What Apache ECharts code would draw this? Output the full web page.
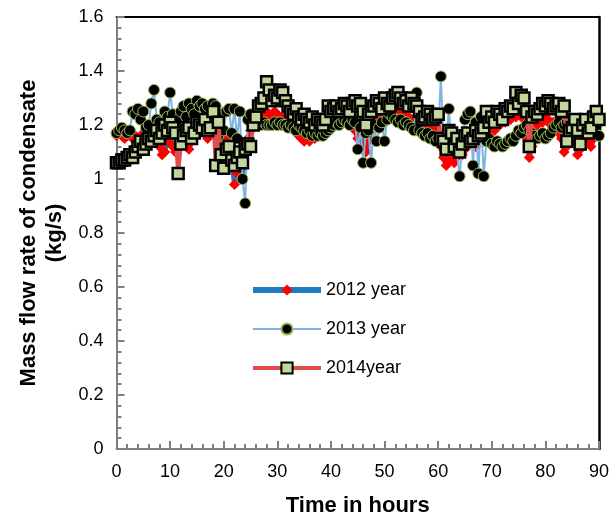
<!DOCTYPE html>
<html>
<head>
<meta charset="utf-8">
<script src="https://cdn.jsdelivr.net/npm/echarts@6/dist/echarts.min.js"></script>
<style>
html,body{margin:0;padding:0;background:#fff;}
#c{width:612px;height:522px;}
</style>
</head>
<body>
<div id="c"></div>
<script>
// time step between readings (hours)
const timeStep = 0.5;
const xTicks = [0,10,20,30,40,50,60,70,80,90];
const yTicks = [0,0.2,0.4,0.6,0.8,1,1.2,1.4,1.6];
const seriesNames = ['2012 year','2013 year','2014year'];

const y2012 = [
1.16,1.17,1.16,1.15,1.16,1.17,1.15,1.16,1.14,1.15,
1.17,1.16,1.18,1.19,1.17,1.15,1.12,1.09,1.10,1.14,
1.16,1.12,1.10,1.13,1.15,1.17,1.12,1.11,1.14,1.16,
1.18,1.20,1.19,1.17,1.15,1.18,1.20,1.16,1.13,1.11,
1.12,1.15,1.10,1.08,0.98,1.02,1.05,1.00,1.10,1.15,
1.18,1.20,1.22,1.21,1.24,1.23,1.25,1.24,1.22,1.25,
1.24,1.22,1.23,1.21,1.20,1.19,1.18,1.17,1.16,1.15,
1.14,1.15,1.14,1.16,1.15,1.17,1.16,1.18,1.19,1.20,
1.21,1.20,1.22,1.21,1.23,1.22,1.24,1.23,1.20,1.18,
1.15,1.17,1.12,1.10,1.14,1.18,1.20,1.22,1.21,1.23,
1.24,1.22,1.25,1.23,1.24,1.26,1.25,1.24,1.22,1.23,
1.22,1.21,1.20,1.22,1.20,1.19,1.18,1.20,1.16,1.18,
1.15,1.12,1.08,1.05,1.07,1.10,1.06,1.08,1.12,1.09,
1.11,1.15,1.13,1.16,1.12,1.15,1.18,1.14,1.17,1.20,
1.19,1.18,1.21,1.20,1.22,1.21,1.23,1.22,1.24,1.23,
1.25,1.24,1.22,1.15,1.08,1.12,1.18,1.20,1.22,1.21,
1.23,1.22,1.20,1.21,1.19,1.17,1.15,1.10,1.12,1.16,
1.18,1.13,1.09,1.11,1.15,1.17,1.14,1.12,1.15,1.17,
1.16];

const y2013 = [
1.17,1.18,1.19,1.18,1.17,1.18,1.25,1.24,1.26,1.22,
1.25,1.19,1.20,1.28,1.33,1.22,1.21,1.19,1.25,1.23,
1.32,1.24,1.20,1.22,1.25,1.27,1.23,1.28,1.26,1.24,
1.29,1.27,1.28,1.26,1.27,1.23,1.28,1.27,1.16,1.24,
1.18,1.25,1.26,1.17,1.26,1.15,1.25,1.00,0.91,1.22,
1.24,1.21,1.20,1.21,1.20,1.21,1.20,1.20,1.20,1.21,
1.20,1.21,1.20,1.20,1.19,1.20,1.19,1.18,1.20,1.19,
1.18,1.17,1.18,1.16,1.17,1.16,1.17,1.16,1.17,1.18,
1.19,1.20,1.21,1.20,1.21,1.22,1.21,1.20,1.22,1.21,
1.11,1.19,1.06,1.17,1.18,1.06,1.20,1.14,1.19,1.21,
1.14,1.22,1.24,1.23,1.22,1.21,1.22,1.20,1.21,1.20,
1.19,1.18,1.32,1.18,1.17,1.16,1.17,1.15,1.16,1.14,
1.15,1.38,1.13,1.14,1.26,1.12,1.14,1.10,1.01,1.12,
1.22,1.24,1.25,1.05,1.21,1.02,1.23,1.01,1.14,1.15,
1.13,1.12,1.14,1.13,1.12,1.13,1.14,1.15,1.14,1.16,
1.18,1.17,1.19,1.20,1.18,1.17,1.16,1.15,1.16,1.17,
1.15,1.16,1.17,1.19,1.20,1.21,1.19,1.20,1.21,1.22,
1.21,1.20,1.22,1.21,1.20,1.22,1.21,1.20,1.21,1.19,
1.16];

const y2014 = [
1.06,1.06,1.07,1.07,1.08,1.09,1.08,1.10,1.12,1.14,
1.11,1.13,1.15,1.14,1.16,1.18,1.15,1.17,1.20,1.18,
1.21,1.19,1.17,1.02,1.13,1.16,1.18,1.19,1.15,1.17,
1.21,1.20,1.19,1.22,1.18,1.19,1.25,1.05,1.21,1.09,
1.04,1.11,1.12,1.07,1.05,1.08,1.10,1.06,1.11,1.13,
1.12,1.20,1.23,1.27,1.28,1.30,1.36,1.33,1.29,1.31,
1.30,1.33,1.32,1.29,1.27,1.25,1.24,1.26,1.23,1.22,
1.24,1.22,1.21,1.23,1.20,1.22,1.21,1.20,1.22,1.27,
1.25,1.26,1.27,1.25,1.26,1.28,1.27,1.25,1.28,1.29,
1.27,1.28,1.25,1.20,1.24,1.25,1.27,1.29,1.28,1.26,
1.30,1.28,1.27,1.30,1.31,1.32,1.30,1.28,1.29,1.27,
1.30,1.28,1.27,1.25,1.22,1.23,1.25,1.24,1.22,1.23,
1.24,1.15,1.14,1.11,1.18,1.17,1.12,1.15,1.10,1.13,
1.16,1.17,1.14,1.15,1.18,1.16,1.17,1.19,1.25,1.21,
1.23,1.21,1.25,1.24,1.22,1.26,1.25,1.27,1.26,1.32,
1.28,1.31,1.30,1.25,1.12,1.23,1.25,1.24,1.26,1.28,
1.27,1.29,1.28,1.26,1.27,1.28,1.25,1.27,1.14,1.18,
1.19,1.22,1.18,1.13,1.20,1.22,1.17,1.19,1.23,1.25,
1.22];

function pairs(arr){ return arr.map((v,i)=>[i*timeStep, v]); }

const FONT = '"Liberation Sans", Arial, sans-serif';
const chart = echarts.init(document.getElementById('c'), null, {renderer:'canvas'});

chart.setOption({
  animation:false,
  backgroundColor:'#fff',
  grid:{left:116.5, right:6, top:17, bottom:66, show:false},
  legend:{
    orient:'vertical', left:245, top:276,
    itemWidth:68, itemHeight:14, itemGap:21,
    textStyle:{fontFamily:FONT, fontSize:18, color:'#000', padding:[0,0,0,0]},
    data:[
      {name:seriesNames[0], lineStyle:{width:6, color:'#1f7bc0'}, itemStyle:{color:'#ff0000'}},
      {name:seriesNames[1], lineStyle:{width:2, color:'#7db4e6'}},
      {name:seriesNames[2], lineStyle:{width:4, color:'#de4e4a'}}
    ]
  },
  xAxis:[{
    type:'value', min:xTicks[0], max:xTicks[xTicks.length-1], interval:10,
    axisLine:{show:true, onZero:false, lineStyle:{color:'#808080', width:2}},
    axisTick:{show:true, inside:true, length:8, lineStyle:{color:'#808080', width:2}},
    minorTick:{show:true, splitNumber:5, length:5, lineStyle:{color:'#808080', width:2}},
    splitLine:{show:false},
    axisLabel:{fontFamily:FONT, fontSize:18, color:'#000', margin:14},
    name:'Time in hours', nameLocation:'middle', nameGap:46,
    nameTextStyle:{fontFamily:FONT, fontSize:22, fontWeight:'bold', color:'#000'}
  },{
    type:'value', position:'top', min:0, max:90,
    axisLine:{show:true, onZero:false, lineStyle:{color:'#000', width:2}},
    axisTick:{show:false}, axisLabel:{show:false}, splitLine:{show:false}
  }],
  yAxis:[{
    type:'value', min:yTicks[0], max:yTicks[yTicks.length-1], interval:0.2,
    axisLine:{show:true, onZero:false, lineStyle:{color:'#808080', width:2}},
    axisTick:{show:true, inside:true, length:8, lineStyle:{color:'#808080', width:2}},
    minorTick:{show:true, splitNumber:5, length:5, lineStyle:{color:'#808080', width:2}},
    splitLine:{show:false},
    axisLabel:{fontFamily:FONT, fontSize:18, color:'#000', margin:13,
      formatter:v=>String(Math.round(v*10)/10)},
    name:'Mass flow rate of condensate\n(kg/s)', nameLocation:'middle', nameGap:48,
    nameTextStyle:{fontFamily:FONT, fontSize:22, fontWeight:'bold', color:'#000', lineHeight:26}
  },{
    type:'value', position:'right', min:0, max:1.6,
    axisLine:{show:true, onZero:false, lineStyle:{color:'#000', width:2.5}},
    axisTick:{show:false}, axisLabel:{show:false}, splitLine:{show:false}
  }],
  series:[
    {
      name:seriesNames[0], type:'line', data:pairs(y2012),
      symbol:'diamond', symbolSize:11, showAllSymbol:true,
      lineStyle:{color:'#1f7bc0', width:5},
      itemStyle:{color:'#ff0000', borderWidth:0},
      color:'#1f7bc0', z:2
    },
    {
      name:seriesNames[1], type:'line', data:pairs(y2013),
      symbol:'circle', symbolSize:11, showAllSymbol:true,
      lineStyle:{color:'#7db4e6', width:2},
      itemStyle:{color:'#000', borderColor:'#9bbb59', borderWidth:1},
      color:'#7db4e6', z:3
    },
    {
      name:seriesNames[2], type:'line', data:pairs(y2014),
      symbol:'rect', symbolSize:11, showAllSymbol:true,
      lineStyle:{color:'#de4e4a', width:4},
      itemStyle:{color:'#c3d69b', borderColor:'#000', borderWidth:2.5},
      color:'#de4e4a', z:4
    }
  ]
});
</script>
</body>
</html>
